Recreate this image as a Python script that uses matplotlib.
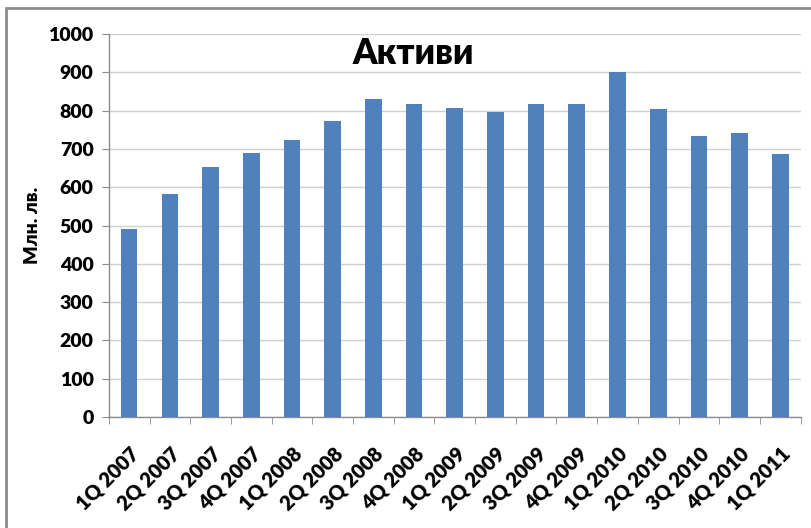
import matplotlib as mpl
mpl.use('Agg')
import matplotlib.pyplot as plt
from matplotlib.patches import Rectangle

quarters = ["1Q 2007", "2Q 2007", "3Q 2007", "4Q 2007",
            "1Q 2008", "2Q 2008", "3Q 2008", "4Q 2008",
            "1Q 2009", "2Q 2009", "3Q 2009", "4Q 2009",
            "1Q 2010", "2Q 2010", "3Q 2010", "4Q 2010",
            "1Q 2011"]
assets = [490, 583, 652, 690, 723, 773, 830, 818, 807, 796,
          818, 816, 900, 804, 733, 742, 688]
yticks = [0, 100, 200, 300, 400, 500, 600, 700, 800, 900, 1000]

plt.rcParams['font.family'] = ['Lato', 'DejaVu Sans']
plt.rcParams['font.weight'] = 'heavy'

fig = plt.figure(figsize=(8.12, 5.28), dpi=100)
ax = fig.add_axes([0.134, 0.2102, 0.852, 0.7254])

# outer chart frame
fig.patches.append(Rectangle((6 / 812, -0.05), 1.2, 1 - 8 / 528 + 0.05,
                             transform=fig.transFigure, fill=False,
                             edgecolor='#8c8c8c', linewidth=2))

x = range(len(quarters))
ax.bar(x, assets, width=0.41, color='#4f81bd', zorder=3)

ax.set_xlim(-0.5, len(quarters) - 0.5)
ax.set_ylim(0, 1000)
ax.set_yticks(yticks)
ax.set_yticklabels([str(v) for v in yticks], fontsize=14, fontweight='heavy')
ax.set_xticks([i for i in x])
ax.set_xticklabels(quarters, rotation=45, ha='right', rotation_mode='anchor',
                   fontsize=14.5, fontweight='heavy')
ax.tick_params(axis='x', length=0, pad=19)
ax.set_xticks([i - 0.5 for i in range(len(quarters) + 1)], minor=True)
ax.tick_params(axis='x', which='minor', length=5, color='#8c8c8c', direction='out')
ax.tick_params(axis='y', length=5, color='#8c8c8c', direction='out', pad=6)

ax.grid(axis='y', color='#d0d0d0', linewidth=1, zorder=0)
for s in ['top', 'right']:
    ax.spines[s].set_visible(False)
for s in ['left', 'bottom']:
    ax.spines[s].set_color('#8c8c8c')
    ax.spines[s].set_linewidth(1)

ax.set_ylabel("Млн. лв.", fontsize=14, fontweight='heavy',
              family=['Lato', 'Open Sans'], labelpad=5)
ax.text(0.44, 0.95, "Активи", transform=ax.transAxes, ha='center', va='center',
        fontsize=25, fontweight='heavy', family=['Lato', 'Open Sans'])

fig.savefig("out.png", dpi=100)
